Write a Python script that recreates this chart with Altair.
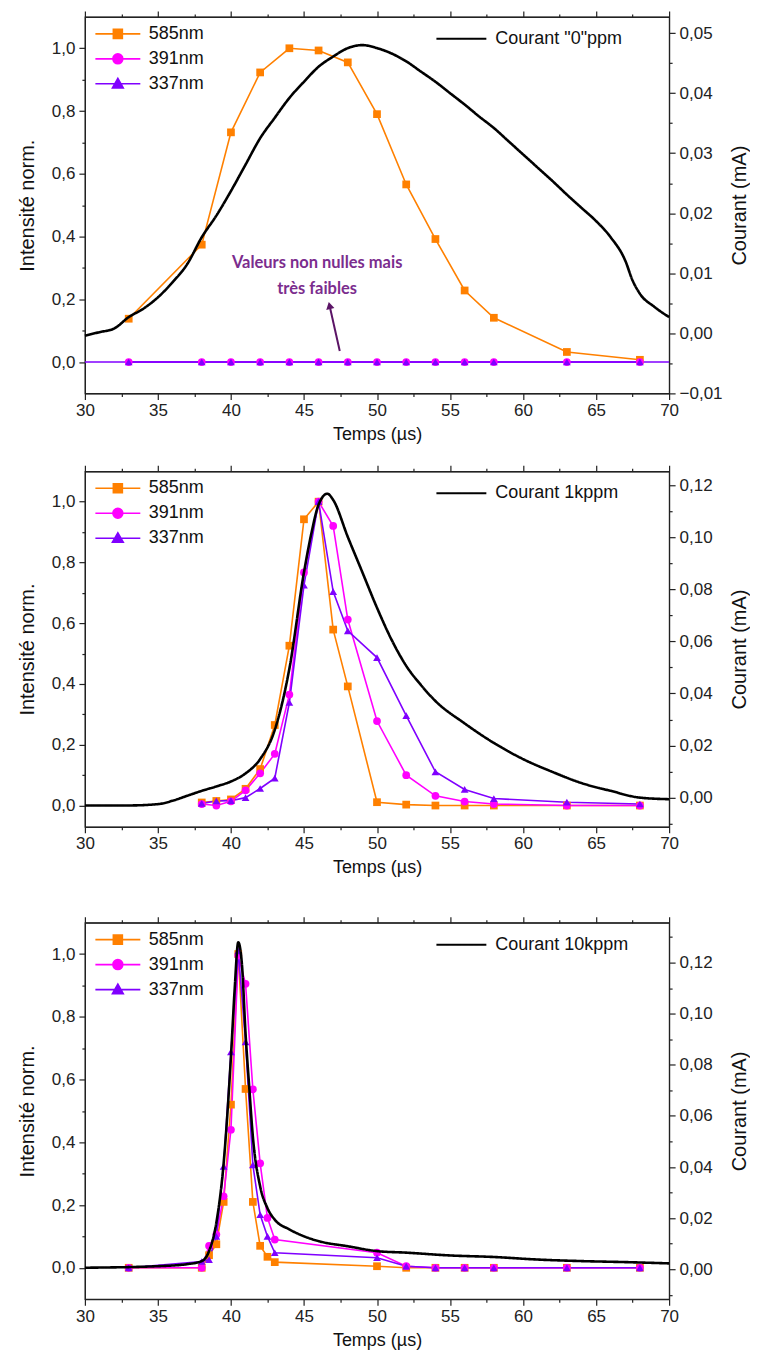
import altair as alt
import pandas as pd

# ---------------- data ----------------
SERIES = ["585nm", "391nm", "337nm"]
COLORS = ["#FF8000", "#FF00FF", "#8000FF"]
SHAPES = ["square", "circle", "triangle-up"]

# Panel 1 ("0"ppm)
T1 = [33, 38, 40, 42, 44, 46, 48, 50, 52, 54, 56, 58, 63, 68]
I585_1 = [0.138, 0.374, 0.732, 0.923, 1.0, 0.993, 0.955, 0.79, 0.566, 0.392, 0.228, 0.141, 0.032, 0.007]
I391_1 = [0, 0, 0, 0, 0, 0, 0, 0, 0, 0, 0, 0, 0, 0]
I337_1 = [0, 0, 0, 0, 0, 0, 0, 0, 0, 0, 0, 0, 0, 0]
C1_T = [30, 31, 32, 33, 34, 35, 36, 37, 38, 39, 40, 41, 42, 43, 44, 45, 46, 47, 48, 49, 50,
        51, 52, 53, 54, 55, 56, 57, 58, 59, 60, 61, 62, 63, 64, 65, 66, 67, 67.5, 68, 69, 70]
C1_V = [-0.0004, 0.0002, 0.0008, 0.0027, 0.0041, 0.006, 0.0085, 0.0115, 0.016, 0.0196, 0.0237,
        0.0281, 0.0325, 0.0359, 0.0392, 0.0419, 0.0444, 0.0461, 0.0475, 0.048, 0.0475, 0.0466,
        0.0453, 0.0436, 0.0419, 0.04, 0.0381, 0.0361, 0.0342, 0.032, 0.0298, 0.0276, 0.0254,
        0.0231, 0.0209, 0.0187, 0.016, 0.0121, 0.0088, 0.0066, 0.0044, 0.0027]

# Panel 2 (1kppm)
T2 = [38, 39, 40, 41, 42, 43, 44, 45, 46, 47, 48, 50, 52, 54, 56, 58, 63, 68]
I585_2 = [0.01, 0.015, 0.02, 0.055, 0.12, 0.265, 0.526, 0.942, 1.0, 0.579, 0.392, 0.011, 0.003, 0.0, 0.0, 0.0, 0.0, 0.0]
I391_2 = [0.005, 0.0, 0.014, 0.05, 0.106, 0.17, 0.365, 0.767, 1.0, 0.92, 0.612, 0.278, 0.10, 0.032, 0.013, 0.005, 0.0, 0.0]
I337_2 = [0.007, 0.015, 0.016, 0.026, 0.056, 0.09, 0.339, 0.725, 1.0, 0.704, 0.575, 0.487, 0.296, 0.111, 0.053, 0.023, 0.011, 0.005]
C2_T = [30, 33, 35, 36, 37, 38, 39, 40, 41, 42, 43, 44, 45, 45.5, 46, 46.6, 47, 48, 49, 50, 51,
        52, 53, 54, 56, 58, 60, 62, 64, 66, 68, 70]
C2_V = [-0.003, -0.003, -0.0025, -0.0012, 0.0007, 0.0026, 0.0043, 0.0062, 0.0093, 0.0148, 0.026,
        0.0495, 0.0865, 0.1013, 0.1125, 0.1167, 0.1143, 0.1001, 0.0865, 0.0729, 0.0606, 0.0506,
        0.0433, 0.0371, 0.0285, 0.021, 0.0148, 0.0099, 0.0056, 0.0026, 0.0, -0.0006]

# Panel 3 (10kppm)
T3 = [33, 38, 38.5, 39, 39.5, 40, 40.5, 41, 41.5, 42, 42.5, 43, 50, 52, 54, 56, 58, 63, 68]
I585_3 = [0.0, 0.0, 0.04, 0.075, 0.21, 0.52, 1.0, 0.57, 0.21, 0.07, 0.035, 0.018, 0.005, 0.0, 0.0, 0.0, 0.0, 0.0, 0.0]
I391_3 = [0.0, 0.0, 0.07, 0.106, 0.228, 0.44, 0.995, 0.905, 0.569, 0.333, 0.159, 0.09, 0.048, 0.005, 0.0, 0.0, 0.0, 0.0, 0.0]
I337_3 = [0.0, 0.02, 0.026, 0.10, 0.323, 0.688, 1.01, 0.72, 0.328, 0.169, 0.10, 0.048, 0.032, 0.005, 0.0, 0.0, 0.0, 0.0, 0.0]
C3_T = [30, 35, 37, 38, 38.5, 39, 39.5, 40, 40.25, 40.5, 40.75, 41, 41.25, 41.5, 42, 42.5, 43,
        44, 45, 46, 48, 50, 52, 55, 58, 61, 64, 67, 70]
C3_V = [0.0006, 0.0012, 0.002, 0.0032, 0.0071, 0.0182, 0.0415, 0.0831, 0.1091, 0.1279, 0.1194,
        0.0922, 0.0714, 0.0519, 0.0324, 0.0239, 0.0194, 0.0156, 0.0129, 0.011, 0.009, 0.0071,
        0.0065, 0.0054, 0.0048, 0.0038, 0.0032, 0.0028, 0.0023]

CUR_LABELS = ['Courant "0"ppm', "Courant  1kppm", "Courant 10kppm"]

# annotation (panel 1)
ANN_T = [45.9, 45.9]
ANN_V = [0.317, 0.233]
ANN_TXT = ["Valeurs non nulles mais", "très faibles"]
ARROW_T = [47.45, 46.75]
ARROW_V = [0.035, 0.18]

# tick values
X_TICKS = [30 + 2.5 * i for i in range(17)]
LEFT_TICKS = [round(0.1 * i, 1) for i in range(11)]
R1_TICKS = [round(-0.01 + 0.005 * i, 3) for i in range(13)]
R2_TICKS = [round(-0.01 + 0.01 * i, 2) for i in range(14)]
R3_TICKS = [round(-0.01 + 0.01 * i, 2) for i in range(15)]

# ---------------- styling ----------------
FONT = "Liberation Sans"
LEGEND_PATHS = [
    "M-5,0H5M-1,-1H1V1H-1Z",
    "M-5,0H5M-1.1,0A1.1,1.1,0,1,1,1.1,0A1.1,1.1,0,1,1,-1.1,0Z",
    "M-5,0H5M-1.2,0.9L0,-1.2L1.2,0.9Z",
]


def tick_cond(test, minor=3, major=6):
    return {"condition": {"test": test, "value": minor}, "value": major}


X_SCALE = alt.Scale(domain=[30, 70], nice=False, zero=False)
BOTTOM_AXIS = alt.Axis(orient="bottom", values=X_TICKS,
                       labelExpr="datum.value % 5 == 0 ? datum.label : ''",
                       tickSize=tick_cond("datum.value % 5 != 0"),
                       title="Temps (µs)", labelOverlap=False, labelFlush=False,
                       labelPadding=3, titlePadding=7, titleFontSize=18)
TOP_AXIS = alt.Axis(orient="top", values=X_TICKS, labels=False, title=None,
                    tickSize=tick_cond("datum.value % 5 != 0"))
LEFT_AXIS = alt.Axis(orient="left", values=LEFT_TICKS,
                     labelExpr="abs(round(datum.value*10)) % 2 == 0 ? replace(format(datum.value, '.1f'), '.', ',') : ''",
                     tickSize=tick_cond("abs(round(datum.value*10)) % 2 == 1"),
                     title="Intensité norm.", labelOverlap=False, labelFlush=False,
                     labelPadding=4, titlePadding=14, titleFontSize=20)


def right_axis(vals, minor_test, label_test):
    return alt.Axis(orient="right", values=vals,
                    labelExpr=label_test + " ? replace(format(datum.value, '.2f'), '.', ',') : ''",
                    tickSize=tick_cond(minor_test),
                    title="Courant (mA)", titleAngle=270, titleBaseline="top",
                    titleX=60, labelOverlap=False, titleFontSize=20,
                    labelFlush=False, labelPadding=4)


def build_panel(T, I585, I391, I337, CT, CV, cur_label, left_dom, right_dom, r_axis, height, extra=False):
    rows = []
    for s, vals in zip(SERIES, [I585, I391, I337]):
        for t, v in zip(T, vals):
            rows.append({"t": t, "v": v, "s": s})
    sdf = pd.DataFrame(rows)
    cdf = pd.DataFrame({"t": CT, "c": CV, "lab": [cur_label] * len(CT)})

    x_enc = alt.X("t:Q", scale=X_SCALE, axis=BOTTOM_AXIS)
    yl = alt.Y("v:Q", scale=alt.Scale(domain=left_dom, nice=False, zero=False), axis=LEFT_AXIS)

    layers = []
    for s, c in zip(SERIES, COLORS):
        layers.append(alt.Chart(sdf).transform_filter(alt.datum.s == s).mark_line(
            strokeWidth=1.6, color=c).encode(x=x_enc, y=yl))
    if extra:
        layers.append(alt.Chart(pd.DataFrame({"v": [0.0]})).mark_rule(
            color=COLORS[2], strokeWidth=1.6).encode(y=yl))
    for s, c, sh in zip(SERIES, COLORS, SHAPES):
        layers.append(alt.Chart(sdf).transform_filter(alt.datum.s == s).mark_point(
            shape=sh, filled=True, size=60, color=c, opacity=1).encode(x=x_enc, y=yl))
    # legend-only layer (no rows survive the filter; the legend comes from the scale domain)
    leg = alt.Legend(title=None, orient="none", legendX=24, legendY=8, symbolSize=81,
                     symbolOpacity=1, symbolStrokeWidth=1.6, labelFontSize=18,
                     labelOffset=22, rowPadding=7, padding=0, labelFont=FONT)
    layers.append(alt.Chart(sdf).transform_filter(alt.datum.v > 5).mark_point(
        filled=True, strokeWidth=1.6).encode(
        x=x_enc, y=yl,
        fill=alt.Fill("s:N", scale=alt.Scale(domain=SERIES, range=COLORS), legend=leg),
        stroke=alt.Stroke("s:N", scale=alt.Scale(domain=SERIES, range=COLORS), legend=leg),
        shape=alt.Shape("s:N", scale=alt.Scale(domain=SERIES, range=LEGEND_PATHS), legend=leg)))
    if extra:
        adf = pd.DataFrame({"t": ANN_T, "v": ANN_V, "txt": ANN_TXT})
        layers.append(alt.Chart(adf).mark_text(font="Lato", fontWeight="bold", fontSize=16.5,
                                               color="#7B2D8E").encode(x=x_enc, y=yl, text="txt:N"))
        rdf = pd.DataFrame({"t": [ARROW_T[0]], "v": [ARROW_V[0]],
                            "t2": [ARROW_T[1]], "v2": [ARROW_V[1]]})
        layers.append(alt.Chart(rdf).mark_rule(color="#5B1466", strokeWidth=2).encode(
            x=x_enc, y=yl, x2="t2:Q", y2="v2:Q"))
        hdf = pd.DataFrame({"t": [ARROW_T[1]], "v": [ARROW_V[1]]})
        layers.append(alt.Chart(hdf).mark_point(shape="triangle-up", filled=True, size=70,
                                                angle=347, color="#5B1466", opacity=1).encode(x=x_enc, y=yl))
    inner = alt.layer(*layers)

    cur = alt.Chart(cdf).mark_line(color="black", strokeWidth=2.6, interpolate="monotone").encode(
        x=alt.X("t:Q", scale=X_SCALE, axis=TOP_AXIS),
        y=alt.Y("c:Q", scale=alt.Scale(domain=right_dom, nice=False, zero=False), axis=r_axis),
        strokeDash=alt.StrokeDash("lab:N", scale=alt.Scale(domain=[cur_label], range=[[1, 0]]),
                                  legend=alt.Legend(title=None, orient="none", legendX=351, legendY=-4,
                                                    symbolType="M-1,0H1", symbolSize=2500,
                                                    symbolStrokeWidth=2, symbolStrokeColor="black",
                                                    labelFontSize=18, labelOffset=8, padding=0,
                                                    labelFont=FONT)))
    return alt.layer(inner, cur).resolve_scale(y="independent").resolve_axis(
        x="independent", y="independent").properties(width=585, height=height)


RA1 = right_axis(R1_TICKS, "abs(round(datum.value*1000)) % 10 != 0",
                 "abs(round(datum.value*1000)) % 10 == 0")
RA2 = right_axis(R2_TICKS, "abs(round(datum.value*100)) % 2 == 1",
                 "abs(round(datum.value*100)) % 2 == 0")
RA3 = right_axis(R3_TICKS, "abs(round(datum.value*100)) % 2 == 1",
                 "abs(round(datum.value*100)) % 2 == 0")

p1 = build_panel(T1, I585_1, I391_1, I337_1, C1_T, C1_V, CUR_LABELS[0],
                 [-0.1, 1.1], [-0.01, 0.0527], RA1, 377, extra=True)
p2 = build_panel(T2, I585_2, I391_2, I337_2, C2_T, C2_V, CUR_LABELS[1],
                 [-0.07, 1.1], [-0.0112, 0.1253], RA2, 356)
p3 = build_panel(T3, I585_3, I391_3, I337_3, C3_T, C3_V, CUR_LABELS[2],
                 [-0.1, 1.1], [-0.0117, 0.1356], RA3, 377)

RES_S = dict(x="independent", y="independent", fill="independent",
             stroke="independent", shape="independent", strokeDash="independent")
RES_L = dict(fill="independent", stroke="independent", shape="independent",
             strokeDash="independent")

top_two = alt.vconcat(p1, p2, spacing=78, bounds="flush").resolve_scale(**RES_S).resolve_legend(**RES_L)

chart = alt.vconcat(top_two, p3, spacing=37, bounds="full").resolve_scale(**RES_S).resolve_legend(
    **RES_L
).properties(
    padding={"left": 8, "top": 0, "right": 0, "bottom": 0}
).configure_view(
    stroke="#222", strokeWidth=1.2
).configure_axis(
    labelFont=FONT, labelFontSize=17, labelColor="#222",
    titleFont=FONT, titleFontWeight="normal", titleColor="#111",
    domainColor="#222", domainWidth=1.2, tickColor="#222", tickWidth=1.2, grid=False
).configure_legend(
    labelFont=FONT, labelFontSize=18, labelColor="#111"
)

chart.save("out.html", embed_options={"renderer": "svg", "actions": False})
